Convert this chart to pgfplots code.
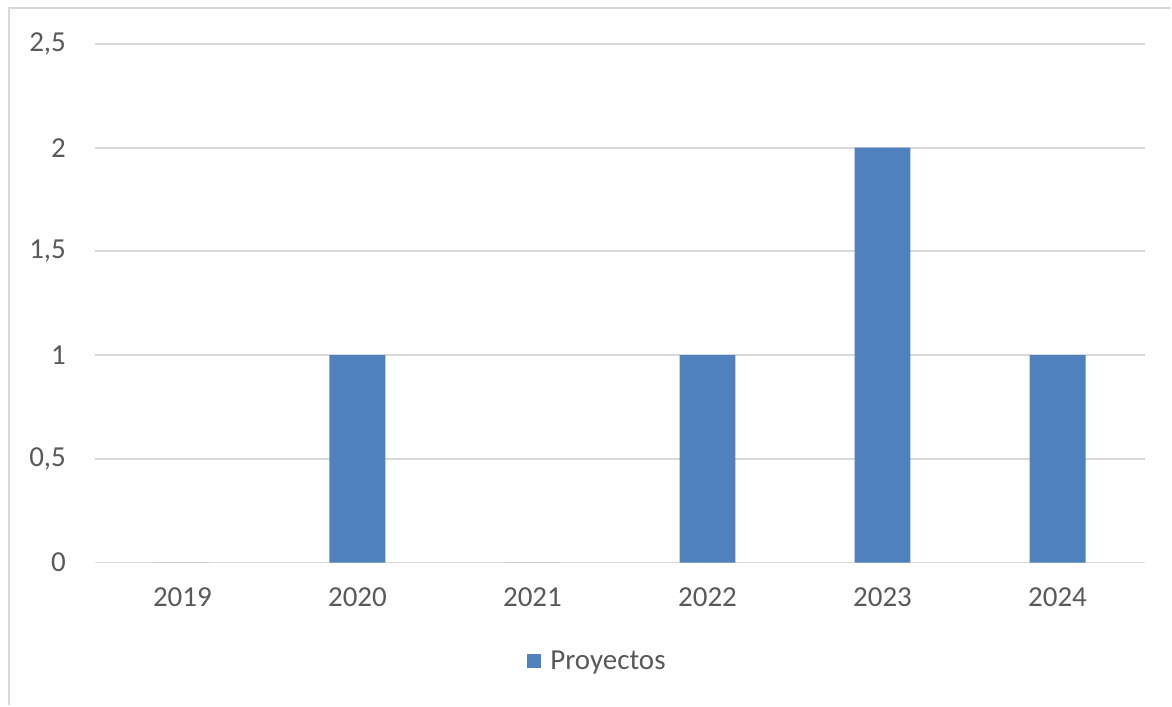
\documentclass[border=0pt]{standalone}
\usepackage{pgfplots}
\pgfplotsset{compat=1.18}
\usepackage{fontspec}
\setmainfont{Carlito}
\definecolor{barblue}{HTML}{4F81BD}
\definecolor{txtgray}{HTML}{595959}
\definecolor{gridgray}{HTML}{D9D9D9}
\begin{document}
\begin{tikzpicture}
\begin{axis}[
    scale only axis,
    width=525.5pt, height=259.5pt,
    ybar, bar width=28pt,
    xmin=-0.5, xmax=5.5,
    ymin=0, ymax=2.5,
    xtick=data,
    xticklabels={2019,2020,2021,2022,2023,2024},
    ytick={0,0.5,1,1.5,2,2.5},
    /pgf/number format/use comma,
    /pgf/number format/assume math mode=true,
    axis line style={draw=none},
    major tick length=0pt,
    ymajorgrids, grid style={gridgray, line width=0.9pt},
    tick label style={font=\fontsize{14.5}{16}\selectfont, text=txtgray},
    yticklabel style={anchor=east, xshift=-11pt},
    xticklabel style={anchor=north, yshift=-9pt},
    legend style={at={(0.4795,-0.1908)}, anchor=center, draw=none,
        font=\fontsize{14.5}{16}\selectfont, text=txtgray,
        legend cell align=left, inner sep=0pt},
    legend image code/.code={\fill[#1] (0pt,-3.5pt) rectangle (7pt,3.5pt); \path (9.5pt,0pt);},
]
\addplot[fill=barblue, draw=none] coordinates {(0,0) (1,1) (2,0) (3,1) (4,2) (5,1)};
\legend{Proyectos}
\end{axis}
\draw[gridgray, line width=1pt] ([shift={(-43pt,-71.5pt)}]current axis.south west) |- ([shift={(13pt,18pt)}]current axis.north east);
\useasboundingbox ([shift={(-47.5pt,-71.5pt)}]current axis.south west) rectangle ([shift={(13pt,22pt)}]current axis.north east);
\end{tikzpicture}
\end{document}
